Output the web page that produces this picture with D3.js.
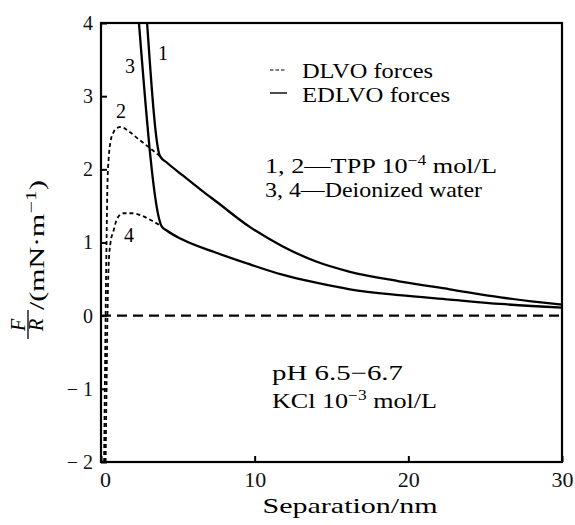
<!DOCTYPE html>
<html>
<head>
<meta charset="utf-8">
<script src="https://cdn.jsdelivr.net/npm/d3@7"></script>
<style>
    body { margin: 0; background: #fff; }
    svg { font-family: "Liberation Serif", "Times New Roman", serif; }
    .tick text { fill: #111; }
</style>
</head>
<body>
<div id="chart"></div>
<script>
// Separation (nm) and F/R (mN/m)
const curve1X = [3.0, 3.84, 4.3, 5.3, 6.5, 7.5, 9.7, 11.8, 14.0, 16.2, 19.4, 22.7, 26.0, 30];
const curve1Y = [4.0, 2.18, 2.09, 1.92, 1.72, 1.56, 1.21, 0.95, 0.74, 0.60, 0.47, 0.36, 0.25, 0.15];

const curve3X = [2.47, 3.95, 4.3, 5.3, 7.5, 9.7, 11.8, 14.0, 16.2, 19.4, 22.7, 26.0, 30];
const curve3Y = [4.0, 1.22, 1.16, 1.04, 0.86, 0.70, 0.56, 0.45, 0.36, 0.28, 0.22, 0.16, 0.11];

const curve2X = [0.2, 0.25, 0.3, 0.36, 0.42, 0.5, 0.62, 0.8, 1.0, 1.3, 1.8, 2.4, 3.0, 3.84];
const curve2Y = [-2, -1, 0, 1, 1.8, 2.15, 2.38, 2.5, 2.56, 2.58, 2.52, 2.42, 2.32, 2.18];

const curve4X = [0.3, 0.36, 0.42, 0.5, 0.62, 0.8, 1.0, 1.2, 1.5, 2.0, 2.6, 3.3, 3.95];
const curve4Y = [-2, -1, 0, 0.7, 1.0, 1.15, 1.3, 1.37, 1.40, 1.40, 1.37, 1.30, 1.22];

const zeroX = [0, 30];
const zeroY = [0, 0];

const xTicks = [0, 10, 20, 30];
const yTicks = [-2, -1, 0, 1, 2, 3, 4];

const config = {
    width: 575,
    height: 525,
    left: 101,
    right: 562,
    top: 23,
    bottom: 462,
    font: "'Liberation Serif', 'Times New Roman', serif"
};

const toPoints = (xs, ys) => xs.map((x, i) => [x, ys[i]]);

const series = [
    { name: "1", pts: toPoints(curve1X, curve1Y), dash: null, width: 2.3 },
    { name: "3", pts: toPoints(curve3X, curve3Y), dash: null, width: 2.3 },
    { name: "2", pts: toPoints(curve2X, curve2Y), dash: "4,3", width: 1.8 },
    { name: "4", pts: toPoints(curve4X, curve4Y), dash: "4,3", width: 1.8 }
];

const svg = d3.select("#chart")
    .append("svg")
    .attr("width", config.width)
    .attr("height", config.height);

const x = d3.scaleLinear().domain([0, 30]).range([config.left, config.right]);
const y = d3.scaleLinear().domain([-2, 4]).range([config.bottom, config.top]);

// axes, ticks point inward
const xAxis = svg.append("g")
    .attr("transform", `translate(0,${config.bottom})`)
    .call(d3.axisBottom(x).tickValues(xTicks).tickSizeInner(-6).tickSizeOuter(0).tickPadding(9));
xAxis.attr("font-family", config.font);
xAxis.select(".domain").remove();
xAxis.selectAll("line").attr("stroke-width", 2);
xAxis.selectAll("text").attr("font-size", 22);
xAxis.selectAll(".tick text").filter(d => d === 0).attr("dx", 4);

const yAxis = svg.append("g")
    .attr("transform", `translate(${config.left},0)`)
    .call(d3.axisLeft(y).tickValues(yTicks).tickSizeInner(-6).tickSizeOuter(0).tickPadding(8)
        .tickFormat(d => d < 0 ? "\u2212 " + Math.abs(d) : d));
yAxis.attr("font-family", config.font);
yAxis.select(".domain").remove();
yAxis.selectAll("line").attr("stroke-width", 2);
yAxis.selectAll("text").attr("font-size", 20);

// frame
svg.append("rect")
    .attr("x", config.left)
    .attr("y", config.top)
    .attr("width", config.right - config.left)
    .attr("height", config.bottom - config.top)
    .attr("fill", "none")
    .attr("stroke", "#000")
    .attr("stroke-width", 2.2);

const line = d3.line()
    .x(d => x(d[0]))
    .y(d => y(d[1]))
    .curve(d3.curveMonotoneX);

// zero line
svg.append("path")
    .attr("d", line(toPoints(zeroX, zeroY)))
    .attr("fill", "none")
    .attr("stroke", "#000")
    .attr("stroke-width", 2.2)
    .attr("stroke-dasharray", "10,6");

svg.append("g")
    .selectAll("path")
    .data(series)
    .join("path")
    .attr("d", d => line(d.pts))
    .attr("fill", "none")
    .attr("stroke", "#000")
    .attr("stroke-width", d => d.width)
    .attr("stroke-dasharray", d => d.dash);

// curve numbers
const curveLabels = [
    { t: "1", x: 163, y: 60 },
    { t: "3", x: 130, y: 73 },
    { t: "2", x: 121, y: 118 },
    { t: "4", x: 129, y: 242 }
];
svg.append("g")
    .selectAll("text")
    .data(curveLabels)
    .join("text")
    .attr("x", d => d.x)
    .attr("y", d => d.y)
    .attr("text-anchor", "middle")
    .attr("font-size", 20)
    .text(d => d.t);

// legend
svg.append("line")
    .attr("x1", 270).attr("x2", 285).attr("y1", 70).attr("y2", 70)
    .attr("stroke", "#000").attr("stroke-width", 1.2).attr("stroke-dasharray", "3.5,2");
svg.append("line")
    .attr("x1", 270).attr("x2", 287).attr("y1", 93).attr("y2", 93)
    .attr("stroke", "#000").attr("stroke-width", 1.4);
svg.append("text").attr("x", 302).attr("y", 78).attr("font-size", 22)
    .attr("textLength", 131).attr("lengthAdjust", "spacingAndGlyphs")
    .text("DLVO forces");
svg.append("text").attr("x", 302).attr("y", 102).attr("font-size", 22)
    .attr("textLength", 148).attr("lengthAdjust", "spacingAndGlyphs")
    .text("EDLVO forces");

const sup = (sel, base, exp, rest, size) => {
    sel.append("tspan").text(base);
    sel.append("tspan").attr("dy", -8).attr("font-size", size || 14).text(exp);
    sel.append("tspan").attr("dy", 8).text(rest);
};

const tpp = svg.append("text").attr("x", 265).attr("y", 173).attr("font-size", 21)
    .attr("textLength", 232).attr("lengthAdjust", "spacingAndGlyphs");
sup(tpp, "1, 2\u2014TPP 10", "\u22124", " mol/L");

svg.append("text").attr("x", 265).attr("y", 197).attr("font-size", 21)
    .attr("textLength", 217).attr("lengthAdjust", "spacingAndGlyphs")
    .text("3, 4\u2014Deionized water");

svg.append("text").attr("x", 272).attr("y", 380).attr("font-size", 21)
    .attr("textLength", 131).attr("lengthAdjust", "spacingAndGlyphs")
    .text("pH 6.5\u22126.7");

const kcl = svg.append("text").attr("x", 272).attr("y", 408).attr("font-size", 21)
    .attr("textLength", 165).attr("lengthAdjust", "spacingAndGlyphs");
sup(kcl, "KCl 10", "\u22123", " mol/L");

// axis titles
svg.append("text")
    .attr("x", 350).attr("y", 513)
    .attr("text-anchor", "middle")
    .attr("font-size", 22)
    .attr("textLength", 175).attr("lengthAdjust", "spacingAndGlyphs")
    .text("Separation/nm");

const yTitle = svg.append("g").attr("transform", "rotate(-90)");
yTitle.append("text").attr("x", -325).attr("y", 25)
    .attr("text-anchor", "middle").attr("font-style", "italic").attr("font-size", 20).text("F");
yTitle.append("line").attr("x1", -339).attr("x2", -310).attr("y1", 28).attr("y2", 28)
    .attr("stroke", "#000").attr("stroke-width", 1.3);
yTitle.append("text").attr("x", -325).attr("y", 43)
    .attr("text-anchor", "middle").attr("font-style", "italic").attr("font-size", 20).text("R");
const unit = yTitle.append("text").attr("x", -310).attr("y", 44).attr("font-size", 20)
    .attr("textLength", 130).attr("lengthAdjust", "spacingAndGlyphs");
sup(unit, "/(mN\u00b7m", "\u22121", ")", 15);
</script>
</body>
</html>
